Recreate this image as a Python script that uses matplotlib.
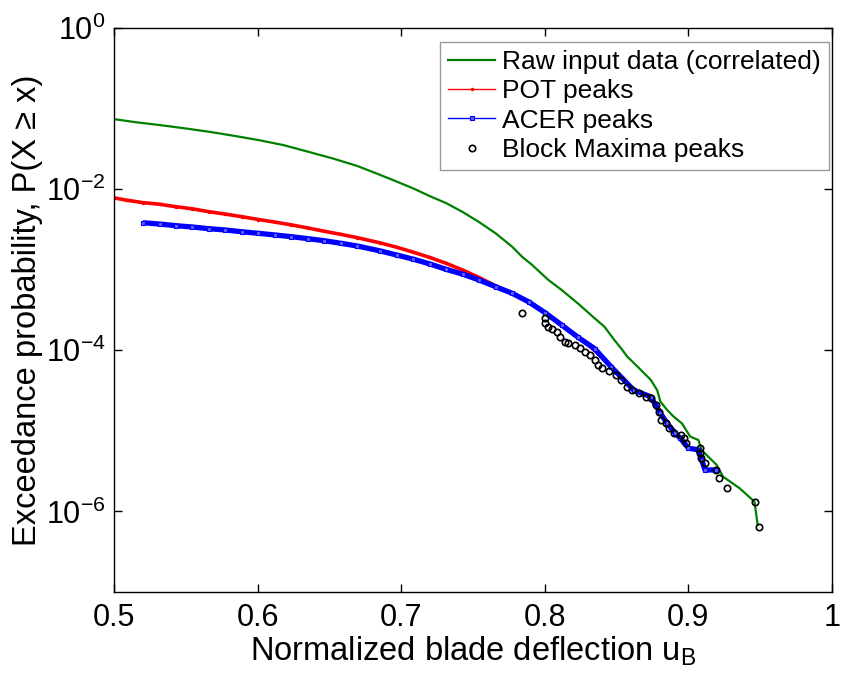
import matplotlib
import matplotlib.pyplot as plt

matplotlib.use("Agg")

plt.rcParams["font.family"] = ["Liberation Sans", "DejaVu Sans"]
plt.rcParams["mathtext.fontset"] = "custom"
plt.rcParams["mathtext.rm"] = "Liberation Sans"
plt.rcParams["mathtext.it"] = "Liberation Sans:italic"
plt.rcParams["mathtext.bf"] = "Liberation Sans:bold"

# raw input data (correlated) exceedance curve
raw_x = [0.5000, 0.5145, 0.5317, 0.5489, 0.5661, 0.5834, 0.6006, 0.6178, 0.6350, 0.6522,
         0.6694, 0.6855, 0.6970, 0.7085, 0.7199, 0.7314, 0.7429, 0.7543, 0.7658, 0.7773,
         0.7842, 0.7911, 0.8026, 0.8118, 0.8232, 0.8347, 0.8416, 0.8485, 0.8531, 0.8576,
         0.8645, 0.8738, 0.8783, 0.8806, 0.8852, 0.8898, 0.8955, 0.9013, 0.9070, 0.9093,
         0.9127, 0.9196, 0.9242, 0.9357, 0.9461, 0.9483]
raw_p = [7.4e-2, 6.8e-2, 6.25e-2, 5.7e-2, 5.16e-2, 4.6e-2, 4.07e-2, 3.53e-2, 2.92e-2, 2.41e-2,
         1.94e-2, 1.50e-2, 1.24e-2, 1.02e-2, 8.2e-3, 6.7e-3, 5.2e-3, 3.9e-3, 2.83e-3, 1.93e-3,
         1.45e-3, 1.15e-3, 7.45e-4, 5.6e-4, 3.8e-4, 2.5e-4, 1.96e-4, 1.34e-4, 1.06e-4, 8.3e-5,
         6.3e-5, 4.3e-5, 3.2e-5, 2.3e-5, 1.82e-5, 1.50e-5, 1.24e-5, 8.5e-6, 7.7e-6, 5.8e-6,
         5.0e-6, 3.8e-6, 2.7e-6, 1.94e-6, 1.32e-6, 6.8e-7]

# POT peaks
pot_x = [0.5000, 0.5087, 0.5202, 0.5317, 0.5432, 0.5546, 0.5661, 0.5776, 0.5891, 0.6006,
         0.6121, 0.6235, 0.6350, 0.6465, 0.6579, 0.6694, 0.6855, 0.6970, 0.7085, 0.7199,
         0.7314, 0.7429, 0.7543, 0.7658, 0.7773, 0.7887, 0.8003, 0.8118, 0.8232, 0.8347,
         0.8462, 0.8620, 0.8738, 0.8806, 0.8910, 0.9001]
pot_p = [7.8e-3, 7.3e-3, 6.8e-3, 6.5e-3, 6.05e-3, 5.7e-3, 5.25e-3, 4.9e-3, 4.55e-3, 4.2e-3,
         3.9e-3, 3.6e-3, 3.3e-3, 3.0e-3, 2.75e-3, 2.5e-3, 2.15e-3, 1.9e-3, 1.65e-3, 1.42e-3,
         1.20e-3, 9.9e-4, 8.0e-4, 6.3e-4, 5.1e-4, 4.0e-4, 2.92e-4, 2.06e-4, 1.45e-4, 1.0e-4,
         6.25e-5, 3.2e-5, 2.65e-5, 1.65e-5, 9.3e-6, 6.1e-6]

# ACER peaks
acer_x = [0.5202, 0.5317, 0.5432, 0.5546, 0.5661, 0.5776, 0.5891, 0.6006, 0.6121, 0.6235,
          0.6350, 0.6465, 0.6579, 0.6694, 0.6855, 0.6970, 0.7085, 0.7199, 0.7314, 0.7429,
          0.7543, 0.7658, 0.7773, 0.7887, 0.8003, 0.8118, 0.8232, 0.8347, 0.8462, 0.8620,
          0.8738, 0.8806, 0.8852, 0.8910, 0.8944, 0.9001, 0.9070, 0.9093, 0.9116, 0.9196]
acer_p = [3.83e-3, 3.69e-3, 3.52e-3, 3.39e-3, 3.23e-3, 3.11e-3, 2.96e-3, 2.83e-3, 2.70e-3, 2.57e-3,
          2.43e-3, 2.29e-3, 2.13e-3, 1.97e-3, 1.71e-3, 1.52e-3, 1.35e-3, 1.18e-3, 1.01e-3, 8.8e-4,
          7.45e-4, 6.15e-4, 5.1e-4, 4.0e-4, 2.92e-4, 2.06e-4, 1.45e-4, 1.05e-4, 6.25e-5, 3.2e-5,
          2.65e-5, 1.65e-5, 1.24e-5, 9.3e-6, 8.1e-6, 6.1e-6, 5.8e-6, 4.35e-6, 3.27e-6, 3.27e-6]

# block maxima peaks
bm_x = [0.7844, 0.8003, 0.8003, 0.8023, 0.8051, 0.8085, 0.8106, 0.8140, 0.8161, 0.8209,
        0.8244, 0.8278, 0.8313, 0.8347, 0.8368, 0.8402, 0.8450, 0.8499, 0.8533, 0.8574,
        0.8609, 0.8657, 0.8705, 0.8740, 0.8774, 0.8795, 0.8809, 0.8843, 0.8864, 0.8898,
        0.8946, 0.8967, 0.8981, 0.9084, 0.9084, 0.9091, 0.9118, 0.9194, 0.9215, 0.9270,
        0.9463, 0.9490]
bm_p = [2.9e-4, 2.5e-4, 2.2e-4, 1.95e-4, 1.84e-4, 1.69e-4, 1.46e-4, 1.27e-4, 1.23e-4, 1.16e-4,
        1.07e-4, 9.5e-5, 8.7e-5, 7.6e-5, 6.6e-5, 6.0e-5, 5.5e-5, 4.9e-5, 4.3e-5, 3.5e-5,
        3.2e-5, 2.95e-5, 2.6e-5, 2.55e-5, 2.1e-5, 1.71e-5, 1.36e-5, 1.25e-5, 1.08e-5, 9.4e-6,
        8.9e-6, 8.1e-6, 7.1e-6, 6.1e-6, 5.3e-6, 4.6e-6, 4.0e-6, 3.3e-6, 2.6e-6, 1.95e-6,
        1.31e-6, 6.4e-7]

x_ticks = [0.5, 0.6, 0.7, 0.8, 0.9, 1.0]
x_tick_labels = ["0.5", "0.6", "0.7", "0.8", "0.9", "1"]
y_ticks = [1e0, 1e-2, 1e-4, 1e-6]
y_tick_labels = [r"$10^{0}$", r"$10^{-2}$", r"$10^{-4}$", r"$10^{-6}$"]

fig = plt.figure(figsize=(8.42, 6.77), dpi=100)
ax = fig.add_axes([0.1354, 0.1256, 0.8526, 0.833])

ax.plot(raw_x, raw_p, color="#008000", lw=1.6, label="Raw input data (correlated)")

# dense peak series drawn as a band, then the labelled line on top
ax.plot(pot_x, pot_p, color="red", lw=2.6, solid_capstyle="round")
ax.plot(pot_x, pot_p, color="red", lw=1.0, marker=".", ms=3, label="POT peaks")
ax.plot(acer_x, acer_p, color="blue", lw=3.8, solid_capstyle="butt")
ax.plot(acer_x, acer_p, color="blue", lw=1.0, marker="s", ms=3,
        mfc="#6060ff", mec="blue", mew=0.8, label="ACER peaks")

ax.plot(bm_x, bm_p, ls="none", marker="o", ms=4.6, mfc="none", mec="black",
        mew=1.2, label="Block Maxima peaks")

ax.set_yscale("log")
ax.set_xlim(0.5, 1.0)
ax.set_ylim(1e-7, 1e0)
ax.set_xticks(x_ticks)
ax.set_xticklabels(x_tick_labels)
ax.set_yticks(y_ticks)
ax.set_yticklabels(y_tick_labels)
ax.minorticks_off()
ax.tick_params(direction="in", length=6, width=1, top=True, right=True,
               labelsize=22, color="black")
ax.tick_params(axis="x", pad=8)
ax.tick_params(axis="y", pad=6)
for s in ax.spines.values():
    s.set_linewidth(1.0)

ax.set_xlabel(r"Normalized blade deflection u$_{\mathrm{B}}$", fontsize=23.5, labelpad=1)
ax.set_ylabel("Exceedance probability, P(X \u2265 x)", fontsize=23.5, labelpad=2)

leg = ax.legend(loc="upper right", bbox_to_anchor=(0.9955, 0.975), fontsize=19,
                frameon=True, fancybox=False, handlelength=1.8, handletextpad=0.25,
                borderpad=0.3, labelspacing=0.2, borderaxespad=0)
leg.get_frame().set_edgecolor("#808080")
leg.get_frame().set_linewidth(1.0)

fig.savefig("out.png", dpi=100)
